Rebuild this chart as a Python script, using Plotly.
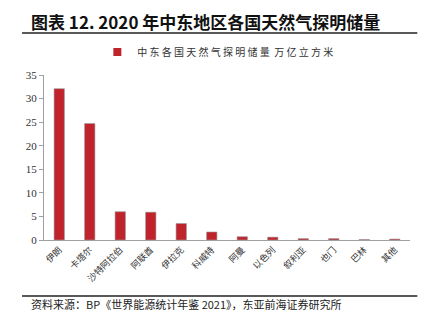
import plotly.graph_objects as go

countries = ["伊朗", "卡塔尔", "沙特阿拉伯", "阿联酋", "伊拉克", "科威特",
             "阿曼", "以色列", "叙利亚", "也门", "巴林", "其他"]
reserves = [32.1, 24.7, 6.0, 5.9, 3.5, 1.7, 0.7, 0.6, 0.3, 0.3, 0.1, 0.2]
y_ticks = [0, 5, 10, 15, 20, 25, 30, 35]

CJK = "Noto Sans CJK SC"
RED = "#C0232C"
SERIES = "中 东 各 国 天 然 气 探 明 储 量  万 亿 立 方 米"

fig = go.Figure()
fig.add_trace(go.Bar(
    x=countries, y=reserves, name=SERIES, showlegend=False,
    marker=dict(color=RED, line=dict(color="#9a9a9a", width=0.6)),
))
# legend entry with a small square swatch
fig.add_trace(go.Scatter(
    x=[None], y=[None], mode="markers", name=SERIES,
    marker=dict(symbol="square", size=8, color=RED),
))

fig.update_layout(
    width=434, height=325,
    margin=dict(l=44, r=24, t=75, b=85),
    paper_bgcolor="white", plot_bgcolor="white",
    bargap=0.66,
    showlegend=True,
    legend=dict(orientation="h", x=0.475, xanchor="center", y=1.14, yanchor="middle",
                font=dict(family=CJK, size=10, color="#333"),
                itemwidth=30),
    xaxis=dict(tickangle=-45, tickfont=dict(family=CJK, size=9, color="#333"),
               showline=True, linecolor="#a0a0a0", linewidth=1.2,
               ticks="", showgrid=False),
    yaxis=dict(range=[0, 35], tickvals=y_ticks, ticks="outside", ticklen=4,
               tickcolor="#a0a0a0",
               tickfont=dict(family="Liberation Serif", size=11, color="#333"),
               showline=True, linecolor="#a0a0a0", linewidth=1.2,
               showgrid=False, zeroline=False),
    shapes=[
        dict(type="line", xref="paper", yref="paper", x0=-0.06, x1=1.02,
             y0=1.255, y1=1.255, line=dict(color="#222", width=1.5)),
        dict(type="line", xref="paper", yref="paper", x0=-0.06, x1=1.02,
             y0=-0.34, y1=-0.34, line=dict(color="#222", width=1.5)),
    ],
    annotations=[
        dict(text="<b>图表 12. 2020 年中东地区各国天然气探明储量</b>",
             xref="paper", yref="paper", x=-0.04, y=1.325, xanchor="left",
             yanchor="middle", showarrow=False,
             font=dict(family=CJK, size=17, color="#111")),
        dict(text="资料来源：BP《世界能源统计年鉴 2021》，东亚前海证券研究所",
             xref="paper", yref="paper", x=-0.04, y=-0.385, xanchor="left",
             yanchor="middle", showarrow=False,
             font=dict(family=CJK, size=11, color="#222")),
    ],
)

fig.write_html("out.html")
